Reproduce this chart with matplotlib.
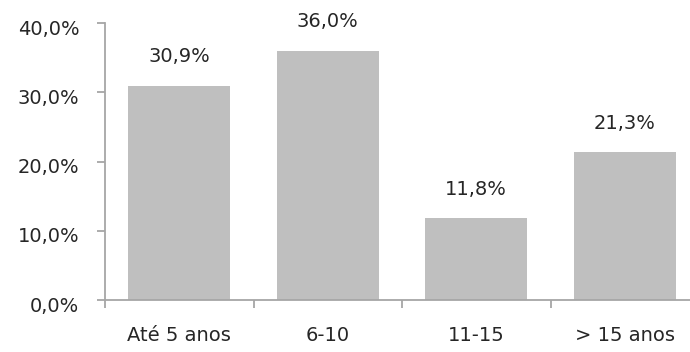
import matplotlib
matplotlib.use("Agg")
import matplotlib.pyplot as plt
from matplotlib.ticker import FuncFormatter, FixedLocator
from matplotlib.transforms import ScaledTranslation

categories = ["Até 5 anos", "6-10", "11-15", "> 15 anos"]
values = [30.9, 36.0, 11.8, 21.3]
y_ticks = [0, 10, 20, 30, 40]

plt.rcParams['font.family'] = ['DejaVu Sans']

fig = plt.figure(figsize=(6.9, 3.52), dpi=100)
W, H = 690, 352
ax = fig.add_axes([105 / W, 1 - 300 / H, (699 - 105) / W, 277 / H])

x = list(range(len(categories)))
ax.bar(x, values, width=0.685, color="#BFBFBF", zorder=2)

fs = 14
text_color = "#262626"
for xi, v in zip(x, values):
    ax.annotate(f"{v:.1f}%".replace(".", ","), (xi, v), xytext=(0, 21),
                textcoords="offset points", ha="center", va="center",
                fontsize=fs, color=text_color)

ax.set_xlim(-0.5, len(categories) - 0.5)
ax.set_ylim(0, 40)
ax.set_yticks(y_ticks)
ax.yaxis.set_major_formatter(FuncFormatter(lambda v, p: f"{v:.1f}%".replace(".", ",")))
ax.set_xticks(x)
ax.set_xticklabels(categories)
ax.xaxis.set_minor_locator(FixedLocator([i - 0.5 for i in range(len(categories) + 1)]))

spine_color = "#A6A6A6"
for s in ["top", "right"]:
    ax.spines[s].set_visible(False)
for s in ["left", "bottom"]:
    ax.spines[s].set_color(spine_color)
    ax.spines[s].set_linewidth(1.3)

ax.tick_params(axis="y", colors=spine_color, labelcolor=text_color, labelsize=fs,
               length=5.5, width=1.3, pad=13)
ax.tick_params(axis="x", which="major", length=0, labelcolor=text_color, labelsize=fs, pad=19)
ax.tick_params(axis="x", which="minor", length=5.5, width=1.3, color=spine_color)

shift = ScaledTranslation(0, -3 / 72, fig.dpi_scale_trans)
for lbl in ax.get_yticklabels():
    lbl.set_transform(lbl.get_transform() + shift)

fig.savefig("out.png", dpi=100)
